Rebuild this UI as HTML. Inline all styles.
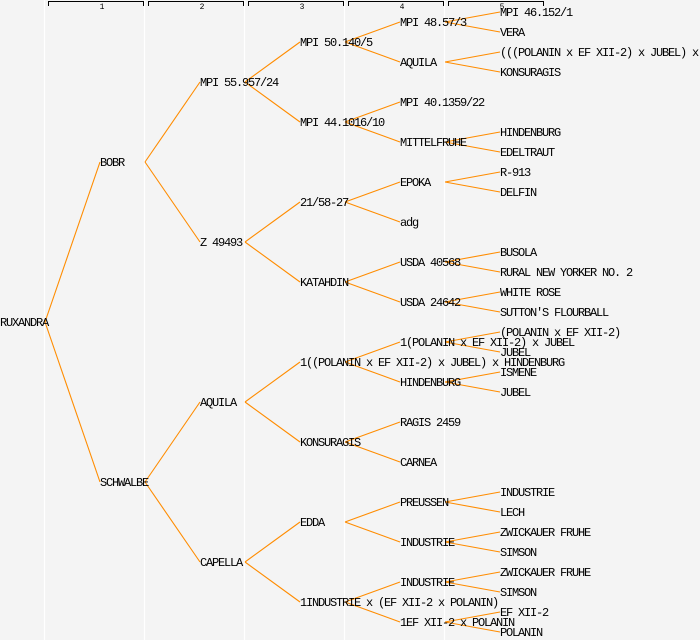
<!DOCTYPE html>
<html><head><meta charset="utf-8"><style>
html,body{margin:0;padding:0;background:#f4f4f4;}
svg{display:block;}
text{font-family:"Liberation Mono","DejaVu Sans Mono",monospace;font-size:12px;letter-spacing:-1.2px;fill:#000;}
text.h{font-size:8px;letter-spacing:0;}
</style></head><body>
<svg width="700" height="640" xmlns="http://www.w3.org/2000/svg">
<rect width="700" height="640" fill="#f4f4f4"/>
<g stroke="#ffffff" stroke-width="1.2">
<line x1="44.5" y1="0" x2="44.5" y2="640"/><line x1="144.5" y1="0" x2="144.5" y2="640"/><line x1="244.5" y1="0" x2="244.5" y2="640"/><line x1="344.5" y1="0" x2="344.5" y2="640"/><line x1="444.5" y1="0" x2="444.5" y2="640"/>
</g>
<g stroke="#000" stroke-width="1" fill="none">
<path d="M48.5 6V1.5H143.5V6"/><path d="M148.5 6V1.5H243.5V6"/><path d="M248.5 6V1.5H343.5V6"/><path d="M348.5 6V1.5H443.5V6"/><path d="M448.5 6V1.5H543.5V6"/>
</g>
<g text-anchor="middle">
<text class="h" x="102" y="9">1</text><text class="h" x="202" y="9">2</text><text class="h" x="302" y="9">3</text><text class="h" x="402" y="9">4</text><text class="h" x="502" y="9">5</text>
</g>
<g stroke="#ff8c00" stroke-width="1.1">
<line x1="45" y1="322" x2="100" y2="162"/><line x1="45" y1="322" x2="100" y2="482"/>
<line x1="145" y1="162" x2="200" y2="82"/><line x1="145" y1="162" x2="200" y2="242"/>
<line x1="145" y1="482" x2="200" y2="402"/><line x1="145" y1="482" x2="200" y2="562"/>
<line x1="245" y1="82" x2="300" y2="42"/><line x1="245" y1="82" x2="300" y2="122"/>
<line x1="245" y1="242" x2="300" y2="202"/><line x1="245" y1="242" x2="300" y2="282"/>
<line x1="245" y1="402" x2="300" y2="362"/><line x1="245" y1="402" x2="300" y2="442"/>
<line x1="245" y1="562" x2="300" y2="522"/><line x1="245" y1="562" x2="300" y2="602"/>
<line x1="345" y1="42" x2="400" y2="22"/><line x1="345" y1="42" x2="400" y2="62"/>
<line x1="345" y1="122" x2="400" y2="102"/><line x1="345" y1="122" x2="400" y2="142"/>
<line x1="345" y1="202" x2="400" y2="182"/><line x1="345" y1="202" x2="400" y2="222"/>
<line x1="345" y1="282" x2="400" y2="262"/><line x1="345" y1="282" x2="400" y2="302"/>
<line x1="345" y1="362" x2="400" y2="342"/><line x1="345" y1="362" x2="400" y2="382"/>
<line x1="345" y1="442" x2="400" y2="422"/><line x1="345" y1="442" x2="400" y2="462"/>
<line x1="345" y1="522" x2="400" y2="502"/><line x1="345" y1="522" x2="400" y2="542"/>
<line x1="345" y1="602" x2="400" y2="582"/><line x1="345" y1="602" x2="400" y2="622"/>
<line x1="445" y1="22" x2="500" y2="12"/><line x1="445" y1="22" x2="500" y2="32"/>
<line x1="445" y1="62" x2="500" y2="52"/><line x1="445" y1="62" x2="500" y2="72"/>
<line x1="445" y1="142" x2="500" y2="132"/><line x1="445" y1="142" x2="500" y2="152"/>
<line x1="445" y1="182" x2="500" y2="172"/><line x1="445" y1="182" x2="500" y2="192"/>
<line x1="445" y1="262" x2="500" y2="252"/><line x1="445" y1="262" x2="500" y2="272"/>
<line x1="445" y1="302" x2="500" y2="292"/><line x1="445" y1="302" x2="500" y2="312"/>
<line x1="445" y1="342" x2="500" y2="332"/><line x1="445" y1="342" x2="500" y2="352"/>
<line x1="445" y1="382" x2="500" y2="372"/><line x1="445" y1="382" x2="500" y2="392"/>
<line x1="445" y1="502" x2="500" y2="492"/><line x1="445" y1="502" x2="500" y2="512"/>
<line x1="445" y1="542" x2="500" y2="532"/><line x1="445" y1="542" x2="500" y2="552"/>
<line x1="445" y1="582" x2="500" y2="572"/><line x1="445" y1="582" x2="500" y2="592"/>
<line x1="445" y1="622" x2="500" y2="612"/><line x1="445" y1="622" x2="500" y2="632"/>
</g>
<g>
<text x="0" y="326">RUXANDRA</text>
<text x="100" y="166">BOBR</text>
<text x="100" y="486">SCHWALBE</text>
<text x="200" y="86">MPI 55.957/24</text>
<text x="200" y="246">Z 49493</text>
<text x="200" y="406">AQUILA</text>
<text x="200" y="566">CAPELLA</text>
<text x="300" y="46">MPI 50.140/5</text>
<text x="300" y="126">MPI 44.1016/10</text>
<text x="300" y="206">21/58-27</text>
<text x="300" y="286">KATAHDIN</text>
<text x="300" y="366">1((POLANIN x EF XII-2) x JUBEL) x HINDENBURG</text>
<text x="300" y="446">KONSURAGIS</text>
<text x="300" y="526">EDDA</text>
<text x="300" y="606">1INDUSTRIE x (EF XII-2 x POLANIN)</text>
<text x="400" y="26">MPI 48.57/3</text>
<text x="400" y="66">AQUILA</text>
<text x="400" y="106">MPI 40.1359/22</text>
<text x="400" y="146">MITTELFRUHE</text>
<text x="400" y="186">EPOKA</text>
<text x="400" y="226">adg</text>
<text x="400" y="266">USDA 40568</text>
<text x="400" y="306">USDA 24642</text>
<text x="400" y="346">1(POLANIN x EF XII-2) x JUBEL</text>
<text x="400" y="386">HINDENBURG</text>
<text x="400" y="426">RAGIS 2459</text>
<text x="400" y="466">CARNEA</text>
<text x="400" y="506">PREUSSEN</text>
<text x="400" y="546">INDUSTRIE</text>
<text x="400" y="586">INDUSTRIE</text>
<text x="400" y="626">1EF XII-2 x POLANIN</text>
<text x="500" y="16">MPI 46.152/1</text>
<text x="500" y="36">VERA</text>
<text x="500" y="56">(((POLANIN x EF XII-2) x JUBEL) x</text>
<text x="500" y="76">KONSURAGIS</text>
<text x="500" y="136">HINDENBURG</text>
<text x="500" y="156">EDELTRAUT</text>
<text x="500" y="176">R-913</text>
<text x="500" y="196">DELFIN</text>
<text x="500" y="256">BUSOLA</text>
<text x="500" y="276">RURAL NEW YORKER NO. 2</text>
<text x="500" y="296">WHITE ROSE</text>
<text x="500" y="316">SUTTON'S FLOURBALL</text>
<text x="500" y="336">(POLANIN x EF XII-2)</text>
<text x="500" y="356">JUBEL</text>
<text x="500" y="376">ISMENE</text>
<text x="500" y="396">JUBEL</text>
<text x="500" y="496">INDUSTRIE</text>
<text x="500" y="516">LECH</text>
<text x="500" y="536">ZWICKAUER FRUHE</text>
<text x="500" y="556">SIMSON</text>
<text x="500" y="576">ZWICKAUER FRUHE</text>
<text x="500" y="596">SIMSON</text>
<text x="500" y="616">EF XII-2</text>
<text x="500" y="636">POLANIN</text>
</g>
</svg>
</body></html>
